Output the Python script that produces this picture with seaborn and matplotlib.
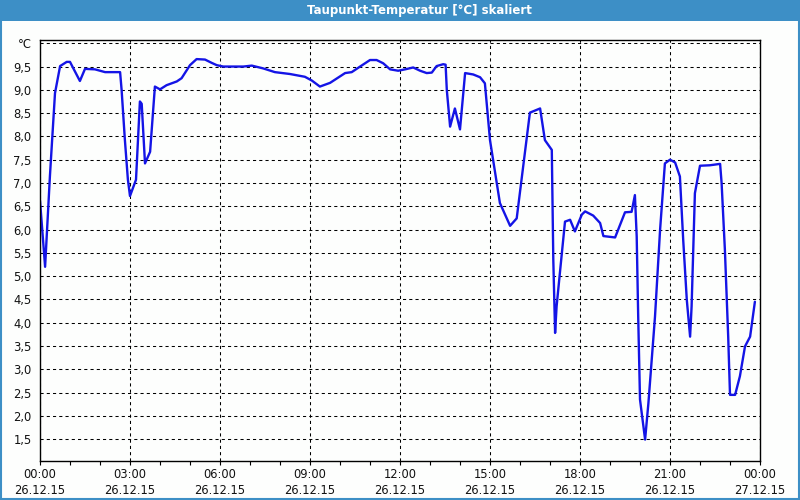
import matplotlib
matplotlib.use("Agg")
import matplotlib.pyplot as plt
from matplotlib.patches import Rectangle
from matplotlib.ticker import MultipleLocator
import seaborn as sns
import pandas as pd

# ---- data (hours since 26.12.15 00:00, dew point in °C) ----
hours = [0.0, 0.17, 0.33, 0.5, 0.67, 0.89, 1.0, 1.33, 1.5, 1.83, 2.17, 2.67, 2.72, 2.83, 2.93,
         3.0, 3.2, 3.33, 3.39, 3.5, 3.67, 3.83, 4.0, 4.22, 4.56, 4.72, 5.0, 5.22, 5.5, 5.72,
         5.89, 6.11, 6.78, 7.06, 7.44, 7.83, 8.33, 8.83, 9.06, 9.33, 9.67, 10.17, 10.39, 10.67,
         11.0, 11.22, 11.44, 11.67, 11.94, 12.17, 12.44, 12.67, 12.89, 13.06, 13.22, 13.44,
         13.52, 13.56, 13.67, 13.83, 14.0, 14.17, 14.44, 14.67, 14.83, 15.0, 15.33, 15.67,
         15.89, 16.33, 16.67, 16.83, 17.06, 17.11, 17.17, 17.22, 17.33, 17.5, 17.67, 17.83,
         18.06, 18.17, 18.44, 18.67, 18.78, 19.17, 19.5, 19.72, 19.83, 19.89, 19.94, 20.0,
         20.17, 20.28, 20.5, 20.67, 20.83, 21.0, 21.17, 21.33, 21.44, 21.56, 21.67, 21.72,
         21.83, 22.0, 22.33, 22.67, 22.72, 22.83, 22.94, 23.0, 23.17, 23.33, 23.5, 23.67, 23.83]
dewpoint = [6.62, 5.2, 7.14, 8.93, 9.51, 9.6, 9.6, 9.19, 9.45, 9.44, 9.38, 9.38, 9.0, 7.92, 7.07,
            6.72, 7.07, 8.75, 8.7, 7.42, 7.67, 9.07, 9.01, 9.1, 9.18, 9.25, 9.53, 9.66, 9.65, 9.58,
            9.53, 9.5, 9.5, 9.52, 9.46, 9.38, 9.34, 9.28, 9.2, 9.07, 9.15, 9.36, 9.38, 9.5,
            9.64, 9.64, 9.57, 9.44, 9.41, 9.44, 9.48, 9.41, 9.36, 9.37, 9.51, 9.55,
            9.54, 9.0, 8.21, 8.6, 8.15, 9.36, 9.33, 9.27, 9.14, 7.92, 6.57, 6.08,
            6.24, 8.51, 8.6, 7.92, 7.71, 5.35, 3.78, 4.35, 5.07, 6.17, 6.21, 5.96,
            6.32, 6.39, 6.3, 6.14, 5.86, 5.83, 6.37, 6.38, 6.74, 5.85, 4.13, 2.35,
            1.49, 2.27, 4.13, 6.0, 7.42, 7.5, 7.44, 7.14, 5.78, 4.49, 3.7, 4.35,
            6.78, 7.37, 7.38, 7.41, 7.0, 5.56, 3.7, 2.45, 2.45, 2.85, 3.49, 3.7, 4.45]

x_tick_hours = [0, 3, 6, 9, 12, 15, 18, 21, 24]
x_tick_labels = ["00:00\n26.12.15", "03:00\n26.12.15", "06:00\n26.12.15", "09:00\n26.12.15",
                 "12:00\n26.12.15", "15:00\n26.12.15", "18:00\n26.12.15", "21:00\n26.12.15",
                 "00:00\n27.12.15"]
y_tick_values = [1.5, 2.0, 2.5, 3.0, 3.5, 4.0, 4.5, 5.0, 5.5, 6.0, 6.5, 7.0, 7.5, 8.0, 8.5,
                 9.0, 9.5, 10.0]
y_tick_labels = ["1,5", "2,0", "2,5", "3,0", "3,5", "4,0", "4,5", "5,0", "5,5", "6,0", "6,5",
                 "7,0", "7,5", "8,0", "8,5", "9,0", "9,5", "°C"]
title_text = "Taupunkt-Temperatur [°C] skaliert"

df = pd.DataFrame({"hours": hours, "dewpoint": dewpoint})

sns.set_theme(style="white")
plt.rcParams["font.family"] = ["DejaVu Sans"]

BG = "#fdfefd"
BLUE_BAR = "#3d8fc6"

fig = plt.figure(figsize=(8, 5), dpi=100, facecolor=BG)
ax = fig.add_axes([40 / 800, 1 - 461 / 500, 720 / 800, 421 / 500])
ax.set_facecolor(BG)

sns.lineplot(data=df, x="hours", y="dewpoint", ax=ax, color="#1414e6",
             linewidth=1.7, sort=False, estimator=None)

ax.set_xlim(0, 24)
ax.set_ylim(1.03, 10.07)

ax.set_xticks(x_tick_hours)
ax.set_xticklabels(x_tick_labels, fontsize=8.3, color="#111111", linespacing=1.3)
ax.xaxis.set_minor_locator(MultipleLocator(1))
ax.set_yticks(y_tick_values)
ax.set_yticklabels(y_tick_labels, fontsize=8.3, color="#111111")

ax.tick_params(axis="x", which="major", direction="out", length=3, width=0.8,
               color="black", pad=2, bottom=True)
ax.tick_params(axis="x", which="minor", direction="out", length=3, width=0.8,
               color="black", bottom=True)
ax.tick_params(axis="y", which="both", length=0, pad=6, left=False)

ax.grid(True, which="major", color="black", linestyle=(0, (3, 3)), linewidth=0.75)
ax.set_axisbelow(True)

for s in ax.spines.values():
    s.set_color("black")
    s.set_linewidth(1.0)

ax.set_xlabel("")
ax.set_ylabel("")

# title bar
fig.patches.append(Rectangle((0, 1 - 21 / 500), 1, 21 / 500, transform=fig.transFigure,
                             facecolor=BLUE_BAR, edgecolor="none", zorder=0))
# outer frame
fig.patches.append(Rectangle((0.001, 0.002), 0.998, 0.996, transform=fig.transFigure,
                             facecolor="none", edgecolor=BLUE_BAR, linewidth=1.5, zorder=5))
fig.text(419 / 800, 1 - 10.5 / 500, title_text, color="white", fontsize=8.5,
         fontweight="bold", ha="center", va="center")

fig.savefig("out.png", dpi=100, facecolor=BG)
